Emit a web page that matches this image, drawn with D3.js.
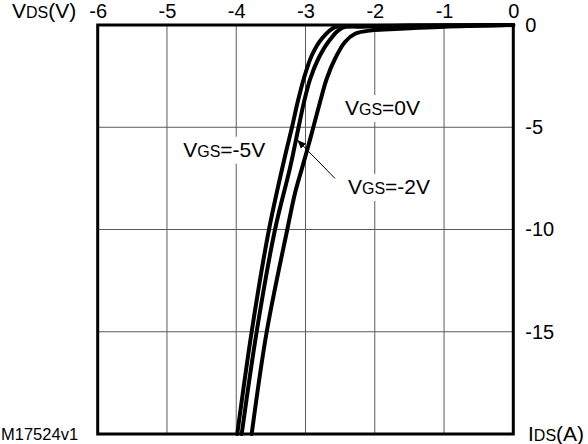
<!DOCTYPE html>
<html>
<head>
<meta charset="utf-8">
<script src="https://cdn.jsdelivr.net/npm/d3@7"></script>
<style>
  body { margin: 0; background: #fff; }
  text { font-family: "Liberation Sans", Arial, sans-serif; fill: #000; }
</style>
</head>
<body>
<svg id="chart" width="588" height="444"></svg>
<script>
// Body diode curves: drain current I_DS (A) vs drain-source voltage V_DS (V)
const xTicks = [-6, -5, -4, -3, -2, -1, 0];
const yTicks = [0, -5, -10, -15];

// bottom of the plot up to the top-right corner
const vgsMinus5 = [
  [-3.985, -20], [-3.777, -15], [-3.527, -10], [-3.285, -6.26], [-3.195, -5],
  [-3.113, -3.77], [-3.025, -2.63], [-2.908, -1.48], [-2.766, -0.67], [-2.574, -0.1],
  [-2.3, -0.06], [-1.5, -0.03], [0, 0]
];
const vgsMinus2 = [
  [-3.921, -20], [-3.705, -15], [-3.44, -10], [-3.22, -6.94], [-3.10, -5],
  [-3.022, -3.77], [-2.932, -2.63], [-2.815, -1.65], [-2.671, -0.83], [-2.478, -0.15],
  [-2.2, -0.08], [-1.5, -0.04], [0, 0]
];
const vgs0 = [
  [-3.777, -20], [-3.56, -15], [-3.263, -10], [-3.15, -8.2], [-3.05, -7.0],
  [-2.964, -5.97], [-2.887, -5], [-2.79, -3.77], [-2.694, -2.63], [-2.574, -1.65],
  [-2.43, -0.83], [-2.285, -0.43], [-2.044, -0.26], [-1.78, -0.21], [-1.49, -0.16],
  [-1.0, -0.08], [-0.5, -0.04], [0, 0]
];
const curves = [vgsMinus5, vgsMinus2, vgs0];

// curve labels, placed in data units (left end / baseline)
const labels = [
  { sub: "GS", rest: "=-5V", at: [-4.766, -6.44] },
  { sub: "GS", rest: "=0V", at: [-2.43, -4.40] },
  { sub: "GS", rest: "=-2V", at: [-2.387, -8.26] }
];
const arrow = { from: [-2.574, -7.5], to: [-3.118, -5.62] };

const svg = d3.select("#chart");

const x = d3.scaleLinear().domain([-6, 0]).range([97.7, 513.3]);
const y = d3.scaleLinear().domain([0, -20]).range([25, 434]);

// grid
svg.append("g")
  .selectAll("line")
  .data(xTicks.slice(1, -1))
  .enter().append("line")
  .attr("x1", d => x(d)).attr("x2", d => x(d))
  .attr("y1", y(0)).attr("y2", y(-20))
  .attr("stroke", "#5a5a5a").attr("stroke-width", 1);

svg.append("g")
  .selectAll("line")
  .data(yTicks.slice(1))
  .enter().append("line")
  .attr("x1", x(-6)).attr("x2", x(0))
  .attr("y1", d => y(d)).attr("y2", d => y(d))
  .attr("stroke", "#5a5a5a").attr("stroke-width", 1);

// axes (labels only, the frame is drawn separately)
const fmt = d => String(d);

const topAxis = svg.append("g")
  .attr("transform", `translate(0,${y(0)})`)
  .call(d3.axisTop(x).tickValues(xTicks).tickFormat(fmt).tickSize(0).tickPadding(7));
topAxis.select(".domain").remove();
topAxis.selectAll("text").attr("font-size", 20).attr("font-family", "Liberation Sans, Arial, sans-serif");

const rightAxis = svg.append("g")
  .attr("transform", `translate(${x(0)},0)`)
  .call(d3.axisRight(y).tickValues(yTicks).tickFormat(fmt).tickSize(0).tickPadding(12));
rightAxis.select(".domain").remove();
rightAxis.selectAll("text").attr("font-size", 20).attr("font-family", "Liberation Sans, Arial, sans-serif");

// label boxes hide the grid under them
function subLabel(g, main, sub, rest, big, small) {
  const t = g.append("text").attr("font-size", big);
  t.append("tspan").text(main);
  t.append("tspan").attr("font-size", small).text(sub);
  t.append("tspan").text(rest);
  return t;
}

const labelG = svg.append("g");
labels.forEach(l => {
  const g = labelG.append("g");
  const t = subLabel(g, "V", l.sub, l.rest, 21, 16)
    .attr("x", x(l.at[0])).attr("y", y(l.at[1]));
  const b = t.node().getBBox();
  g.insert("rect", "text")
    .attr("x", b.x - 3).attr("y", b.y - 1)
    .attr("width", b.width + 6).attr("height", b.height + 4)
    .attr("fill", "#fff");
});

// arrow to the -2V curve
svg.append("defs").append("marker")
  .attr("id", "head")
  .attr("viewBox", "0 0 10 10")
  .attr("refX", 10).attr("refY", 5)
  .attr("markerWidth", 9).attr("markerHeight", 9)
  .attr("markerUnits", "userSpaceOnUse")
  .attr("orient", "auto")
  .append("path")
  .attr("d", "M0,1 L10,5 L0,9 Z")
  .attr("fill", "#000");

svg.append("line")
  .attr("x1", x(arrow.from[0])).attr("y1", y(arrow.from[1]))
  .attr("x2", x(arrow.to[0])).attr("y2", y(arrow.to[1]))
  .attr("stroke", "#000").attr("stroke-width", 1)
  .attr("marker-end", "url(#head)");

// curves
const line = d3.line()
  .x(d => x(d[0]))
  .y(d => y(d[1]))
  .curve(d3.curveCatmullRom.alpha(0.5));

svg.append("g")
  .selectAll("path")
  .data(curves)
  .enter().append("path")
  .attr("d", line)
  .attr("fill", "none")
  .attr("stroke", "#000")
  .attr("stroke-width", 4)
  .attr("stroke-linejoin", "round")
  .attr("stroke-linecap", "round");

// frame
svg.append("rect")
  .attr("x", x(-6)).attr("y", y(0))
  .attr("width", x(0) - x(-6)).attr("height", y(-20) - y(0))
  .attr("fill", "none")
  .attr("stroke", "#000")
  .attr("stroke-width", 3);

// axis titles
subLabel(svg, "V", "DS", "(V)", 21, 16).attr("x", 12).attr("y", 18);
subLabel(svg, "I", "DS", "(A)", 21, 16).attr("x", 528).attr("y", 441);
svg.append("text").attr("x", 1).attr("y", 440).attr("font-size", 16.5).text("M17524v1");
</script>
</body>
</html>
